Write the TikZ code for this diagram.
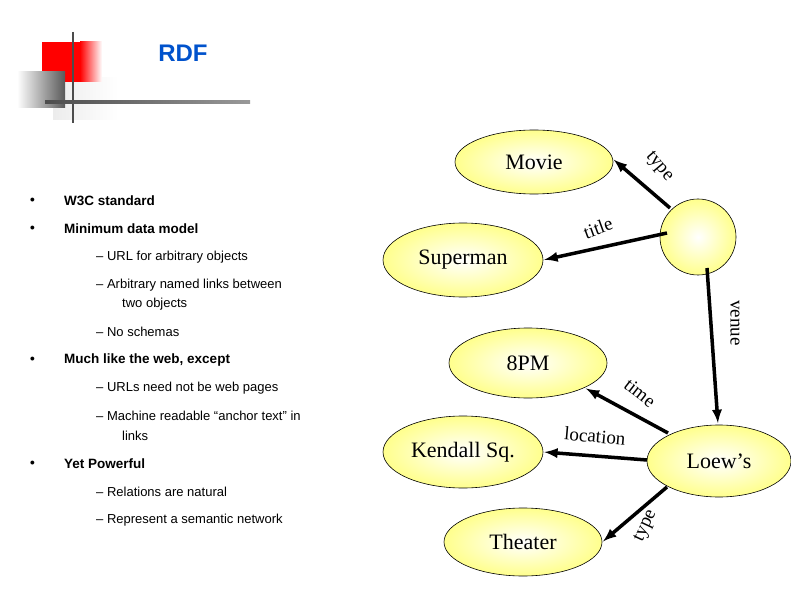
\documentclass[tikz,border=0pt]{standalone}
\usepackage{fontspec}
\usetikzlibrary{shapes.geometric,arrows.meta}
\setmainfont{Liberation Serif}
\newfontfamily\sans{Liberation Sans}
\begin{document}
\begin{tikzpicture}[x=1pt,y=-1pt, line join=round, >=latex,
  res/.style={ellipse, draw=black, line width=0.6pt, inner color=white, outer color=yellow!45!white,
    minimum width=#1, font=\fontsize{22}{24}\selectfont},
  rel/.style={->, line width=3.5pt, shorten >=1pt, >={latex[length=9pt,width=11pt]}},
  lab/.style={font=\fontsize{19}{20}\selectfont, inner sep=0pt},
  bul/.style={anchor=west, font=\sans\bfseries\fontsize{13.5}{15}\selectfont, inner sep=0pt},
  sub/.style={anchor=west, font=\sans\fontsize{13}{15}\selectfont, inner sep=0pt}]
\useasboundingbox (0,0) rectangle (791,593);
% logo
\shade[left color=gray!15, right color=white] (53,78) rectangle (118,120);
\shade[left color=red, right color=white] (80,42) rectangle (102,82);
\fill[red] (42,42) rectangle (81,82);
\shade[left color=white, right color=gray!70!black] (17,72) rectangle (65,108);
\draw[gray!60!black, line width=1.3pt] (73,32) -- (73,123);
\shade[left color=gray!60!black, right color=gray!80] (45,101) rectangle (250,103.5);
\node[font=\sans\bfseries\fontsize{24}{26}\selectfont, text=blue!60!cyan!80!black] at (183,53) {RDF};
% bullets
\foreach \y/\t in {201/W3C standard, 229/Minimum data model, 360/{Much like the web, except}, 464/Yet Powerful}
  {\node[bul] at (30,\y) {\textbullet}; \node[bul] at (64,\y) {\t};}
\foreach \y/\t in {257/URL for arbitrary objects, 285/Arbitrary named links between, 332/No schemas,
   388/URLs need not be web pages, 416/{Machine readable “anchor text” in}, 492/Relations are natural/universal,
   520/Represent a semantic network}
  {\node[sub] at (96,\y) {– \t};}
\node[sub] at (122,304) {two objects};
\node[sub] at (122,436) {links};
% graph
\node[res=158pt, minimum height=64pt] (movie) at (534,162) {Movie};
\node[circle, draw=black, line width=0.6pt, inner color=white, outer color=yellow!45!white, minimum size=76pt] (film) at (698,237) {};
\node[res=160pt, minimum height=74pt] (sup) at (463,260) {Superman};
\node[res=158pt, minimum height=70pt] (pm) at (528,363) {8PM};
\node[res=160pt, minimum height=72pt] (ken) at (463,452) {Kendall Sq.};
\node[res=144pt, minimum height=72pt] (loew) at (719,461) {Loew’s};
\node[res=158pt, minimum height=68pt] (thea) at (523,542) {Theater};
\coordinate (f1) at (670,208); \coordinate (f2) at (667,233); \coordinate (f3) at (707,268);
\coordinate (l1) at (668,433); \coordinate (l2) at (647,460); \coordinate (l3) at (667,487);
\coordinate (loewtop) at (718,424); \coordinate (movend) at (613,159); \coordinate (pmend) at (585,388);
\draw[rel] (f1) -- (movend);
\draw[rel] (f2) -- (sup.east);
\draw[rel] (f3) -- (loewtop);
\draw[rel] (l1) -- (pmend);
\draw[rel] (l2) -- (ken.east);
\draw[rel] (l3) -- (thea.east);
\node[lab, rotate=-50] at (659,167) {type};
\node[lab, rotate=20] at (598,228) {title};
\node[lab, rotate=-90] at (735,323) {venue};
\node[lab, rotate=-38] at (640,393) {time};
\node[lab, rotate=-5] at (595,436) {location};
\node[lab, rotate=65] at (646,526) {type};
\end{tikzpicture}
\end{document}
